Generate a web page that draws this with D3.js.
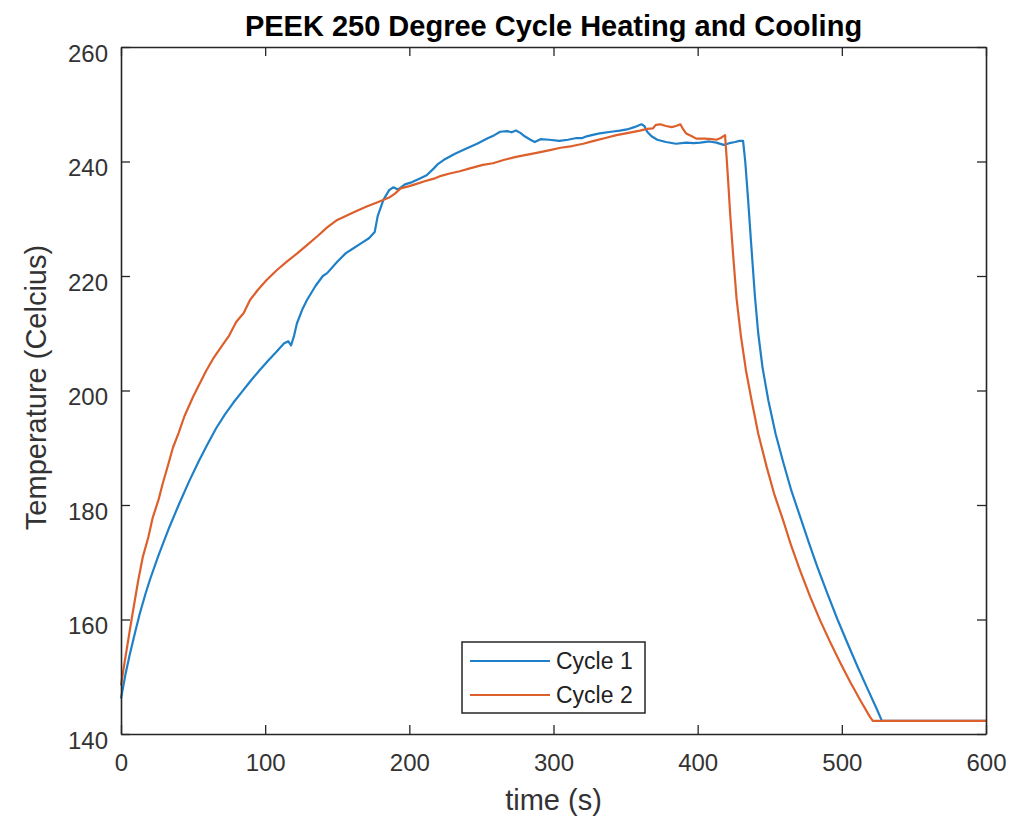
<!DOCTYPE html>
<html>
<head>
<meta charset="utf-8">
<script src="https://cdn.jsdelivr.net/npm/d3@7"></script>
<style>
  body { margin: 0; background: #fff; }
  text { font-family: "Liberation Sans", Arial, Helvetica, sans-serif; }
</style>
</head>
<body>
<div id="svg-area"></div>
<script>
// data
const cycle1Time = [0, 3, 6, 10, 13, 17, 20, 26, 33, 40, 47, 54, 60, 66, 72, 78, 84, 90, 96, 102,
  108, 113, 116, 118, 120, 122, 126, 129, 135, 140, 143, 150, 156, 161, 167, 172, 176, 178, 182, 186, 189,
  192, 197, 202, 207, 212, 217, 220, 224, 232, 240, 247, 254, 259, 263, 268, 271, 274, 277, 280, 284,
  287, 291, 297, 304, 310, 316, 320, 323, 328, 332, 340, 346, 351, 356, 361, 363, 365, 368, 372, 378,
  385, 392, 397, 402, 408, 413, 418, 422, 426, 429, 431.5, 433, 435, 437, 439.7, 442, 445, 449, 454, 459.3,
  465, 471, 477, 483, 490, 497, 504, 511, 518, 524, 527.8, 600]
const cycle1Temp = [146.2, 150.3, 153.8, 158, 161, 164.5, 166.9, 171.2, 175.8, 180, 184, 187.7, 190.6, 193.4, 195.8, 197.9, 199.8, 201.7, 203.5, 205.2,
  206.8, 208.2, 208.6, 207.9, 209.5, 211.7, 214.3, 215.8, 218.3, 220, 220.5, 222.5, 224, 224.8, 225.8, 226.6, 227.7, 230.4, 233.3, 235, 235.5,
  235.1, 236, 236.4, 237, 237.6, 238.8, 239.6, 240.3, 241.4, 242.3, 243.1, 244, 244.6, 245.2, 245.3, 245.1, 245.4, 245, 244.4, 243.8,
  243.4, 243.9, 243.8, 243.6, 243.8, 244.1, 244.1, 244.4, 244.7, 244.9, 245.2, 245.4, 245.6, 246, 246.5, 246.2, 245.2, 244.4, 243.8, 243.4,
  243.1, 243.3, 243.2, 243.3, 243.5, 243.3, 242.9, 243.2, 243.4, 243.6, 243.6, 240, 233.3, 226, 216.5, 210, 204, 198.3, 192.5, 187.5,
  182.5, 178, 173.5, 169.2, 164.5, 160, 155.8, 151.7, 147.8, 144.5, 142.3, 142.3]

const cycle2Time = [0, 2.5, 5, 8, 12, 15, 19, 22, 26, 29, 33, 36, 40, 44, 50, 54, 59, 64, 70, 75,
  80, 85, 89.5, 95, 101, 108, 115, 122, 129, 136, 143, 150, 157, 163, 170, 178, 186, 190, 194, 200,
  205, 210, 217, 222, 228, 235, 242, 251, 258, 266, 274, 282, 290, 297.5, 305, 313, 320.6, 328, 336, 343.7,
  352, 360, 365, 369, 371, 374, 378, 382, 385, 388, 390, 392, 396, 399, 405, 410, 413, 416, 419, 420,
  421.3, 422.5, 424.5, 427, 430, 433.5, 437.4, 442, 447.8, 453, 459.3, 465, 471, 478, 485, 492, 499, 506, 513, 519.5,
  521.5, 600]
const cycle2Temp = [148.5, 152.5, 156.4, 161, 166.9, 170.8, 174.4, 177.8, 180.9, 183.8, 187.3, 190, 192.6, 195.5, 198.9, 200.9, 203.4, 205.6, 207.8, 209.6,
  212, 213.5, 215.8, 217.6, 219.3, 221, 222.5, 223.9, 225.4, 226.9, 228.5, 229.8, 230.6, 231.3, 232.1, 232.9, 233.7, 234.4, 235.3, 235.7,
  236.1, 236.5, 237, 237.5, 237.9, 238.3, 238.8, 239.4, 239.7, 240.3, 240.8, 241.2, 241.6, 242, 242.4, 242.7, 243.1, 243.6, 244.1, 244.6,
  245, 245.4, 245.7, 245.8, 246.4, 246.5, 246.2, 246, 246.2, 246.5, 245.6, 244.9, 244.4, 244, 244, 243.9, 243.8, 244.1, 244.6, 241,
  236, 231, 224, 216, 209.5, 203.5, 198.3, 192.5, 186.7, 182, 177.3, 172.8, 168.6, 164, 159.8, 156, 152.4, 149, 145.8, 143,
  142.3, 142.3]

const seriesNames = ["Cycle 1", "Cycle 2"]
const seriesColors = ["#1f80c8", "#dc5f2c"]
const xTicks = [0, 100, 200, 300, 400, 500, 600]
const yTicks = [140, 160, 180, 200, 220, 240, 260]

const svgWidth = 1030
const svgHeight = 821
const margin = { top: 47, right: 44, bottom: 87, left: 121 }
const chartWidth = svgWidth - margin.left - margin.right
const chartHeight = svgHeight - margin.top - margin.bottom
const axisColor = "#262626"

let svg = d3.select("#svg-area")
  .append("svg")
  .attr("width", svgWidth)
  .attr("height", svgHeight)

let chartGroup = svg.append("g")
  .attr("transform", `translate(${margin.left}, ${margin.top})`)

const x = d3.scaleLinear().domain([0, 600]).range([0, chartWidth])
const y = d3.scaleLinear().domain([140, 260]).range([chartHeight, 0])

// series
const series = [
  cycle1Time.map((t, i) => [t, cycle1Temp[i]]),
  cycle2Time.map((t, i) => [t, cycle2Temp[i]])
]

const line = d3.line()
  .x(d => x(d[0]))
  .y(d => y(d[1]))

series.forEach((s, i) => {
  chartGroup.append("path")
    .datum(s)
    .attr("d", line)
    .attr("fill", "none")
    .attr("stroke", seriesColors[i])
    .attr("stroke-width", 2.2)
    .attr("stroke-linejoin", "round")
})

// axes: ticks point inward, matlab style box
const tickLen = 9

let xAxis = chartGroup.append("g")
  .attr("transform", `translate(0, ${chartHeight})`)
  .call(d3.axisBottom(x).tickValues(xTicks).tickSize(-tickLen).tickPadding(20).tickSizeOuter(0))
let yAxis = chartGroup.append("g")
  .call(d3.axisLeft(y).tickValues(yTicks).tickSize(-tickLen).tickPadding(13).tickSizeOuter(0))
let xTop = chartGroup.append("g")
  .call(d3.axisTop(x).tickValues(xTicks).tickSize(-tickLen).tickFormat("").tickSizeOuter(0))
let yRight = chartGroup.append("g")
  .attr("transform", `translate(${chartWidth}, 0)`)
  .call(d3.axisRight(y).tickValues(yTicks).tickSize(-tickLen).tickFormat("").tickSizeOuter(0))

;[xAxis, yAxis, xTop, yRight].forEach(a => {
  a.select(".domain").attr("stroke", axisColor).attr("stroke-width", 1.6)
  a.selectAll(".tick line").attr("stroke", axisColor).attr("stroke-width", 1.3)
  a.selectAll(".tick text")
    .attr("fill", "#333")
    .style("font-size", "24px")
    .style("font-family", "'Liberation Sans', Arial, sans-serif")
})
yAxis.selectAll(".tick text").attr("dy", "0.75em").attr("y", -4)

// title and axis labels
svg.append("text")
  .attr("x", margin.left + chartWidth / 2)
  .attr("y", 36)
  .attr("text-anchor", "middle")
  .attr("font-weight", "bold")
  .attr("font-size", 29)
  .attr("fill", "#000")
  .text("PEEK 250 Degree Cycle Heating and Cooling")

svg.append("text")
  .attr("x", margin.left + chartWidth / 2)
  .attr("y", 810)
  .attr("text-anchor", "middle")
  .attr("font-size", 29)
  .attr("fill", "#333")
  .text("time (s)")

svg.append("text")
  .attr("transform", `translate(46, ${margin.top + chartHeight / 2 - 3}) rotate(-90)`)
  .attr("text-anchor", "middle")
  .attr("font-size", 29)
  .attr("fill", "#333")
  .text("Temperature (Celcius)")

// legend
let legend = chartGroup.append("g")
  .attr("transform", `translate(341, 595)`)

legend.append("rect")
  .attr("x", 0)
  .attr("y", 0)
  .attr("width", 183)
  .attr("height", 71)
  .attr("fill", "#fff")
  .attr("stroke", axisColor)
  .attr("stroke-width", 1.5)

seriesNames.forEach((name, i) => {
  let ly = 19 + i * 34
  legend.append("line")
    .attr("x1", 8).attr("x2", 88)
    .attr("y1", ly).attr("y2", ly)
    .attr("stroke", seriesColors[i])
    .attr("stroke-width", 2.2)
  legend.append("text")
    .attr("x", 94)
    .attr("y", ly + 8)
    .attr("font-size", 23)
    .attr("fill", "#222")
    .text(name)
})
</script>
</body>
</html>
